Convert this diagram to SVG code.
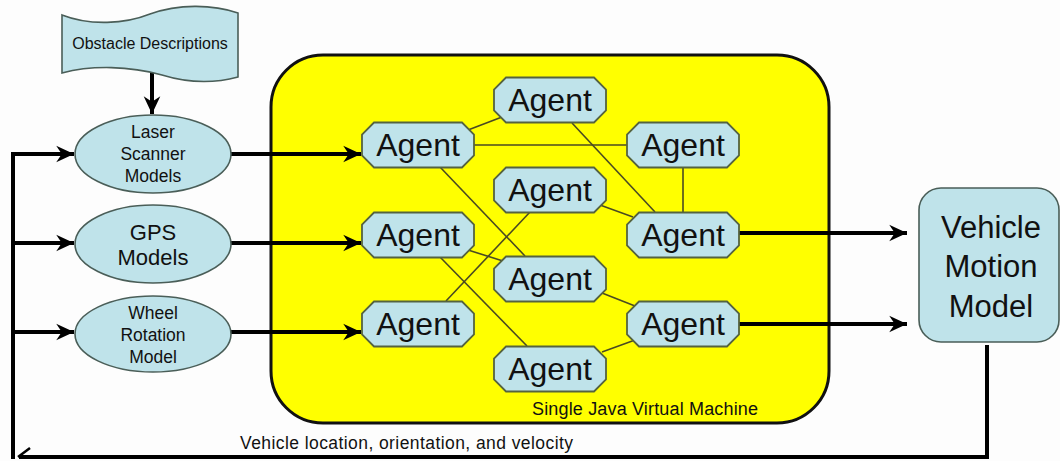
<svg xmlns="http://www.w3.org/2000/svg" xmlns:xlink="http://www.w3.org/1999/xlink" width="1060" height="461" viewBox="0 0 1060 461">
<style>
  .node { fill: #bfe3ea; stroke: #4a5e58; stroke-width: 1.6; }
  .agent { fill: #bfe3ea; stroke: #55633f; stroke-width: 1.8; }
  .t { font-family: "Liberation Sans", Arial, sans-serif; fill: #111; text-anchor: middle; }
  .link { stroke: #4a4a22; stroke-width: 1.6; fill: none; }
  .thick { stroke: #000; stroke-width: 4; fill: none; }
</style>
<defs>
  <marker id="ah" markerUnits="userSpaceOnUse" markerWidth="20" markerHeight="20" viewBox="-16 -8 18 16" refX="0" refY="0" orient="auto">
    <path d="M0,0 L-16,-7.5 L-11,0 L-16,7.5 Z" fill="#000"/>
  </marker>
  <polygon id="oct" points="-44,-22.5 44,-22.5 56,-10.5 56,10.5 44,22.5 -44,22.5 -56,10.5 -56,-10.5"/>
</defs>
<rect width="1060" height="461" fill="#fdfdfd"/>

<g id="jvm">
  <rect x="271" y="55" width="558" height="368" rx="52" ry="52" fill="#ffff00" stroke="#111" stroke-width="3"/>
  <text class="t" x="532" y="415" font-size="18" style="text-anchor:start" textLength="226" fill="#222">Single Java Virtual Machine</text>
</g>

<g id="connectors">
  <line class="link" x1="468" y1="130" x2="502" y2="117"/>
  <line class="link" x1="474" y1="145" x2="627" y2="145"/>
  <line class="link" x1="572" y1="123" x2="655" y2="212"/>
  <line class="link" x1="683" y1="167" x2="683" y2="212"/>
  <line class="link" x1="600" y1="205" x2="633" y2="217"/>
  <line class="link" x1="440" y1="167" x2="525" y2="256"/>
  <line class="link" x1="530" y1="212" x2="446" y2="301"/>
  <line class="link" x1="468" y1="250" x2="503" y2="261"/>
  <line class="link" x1="440" y1="257" x2="527" y2="346"/>
  <line class="link" x1="602" y1="293" x2="635" y2="306"/>
  <line class="link" x1="602" y1="352" x2="635" y2="340"/>
  <line class="thick" x1="152" y1="73" x2="152" y2="114" marker-end="url(#ah)"/>
  <line class="thick" x1="231" y1="154" x2="361" y2="154" marker-end="url(#ah)"/>
  <line class="thick" x1="231" y1="243" x2="361" y2="243" marker-end="url(#ah)"/>
  <line class="thick" x1="231" y1="332" x2="361" y2="332" marker-end="url(#ah)"/>
  <line class="thick" x1="738" y1="233" x2="907" y2="233" marker-end="url(#ah)"/>
  <line class="thick" x1="738" y1="324" x2="907" y2="324" marker-end="url(#ah)"/>
  <polyline class="thick" points="987,345 987,457 19,457"/>
  <polyline points="30,448 18,457" stroke="#000" stroke-width="2.5" fill="none"/>
  <polyline class="thick" points="13,459 13,154 60,154"/>
  <line class="thick" x1="13" y1="243" x2="74" y2="243" marker-end="url(#ah)"/>
  <line class="thick" x1="13" y1="332" x2="74" y2="332" marker-end="url(#ah)"/>
  <line class="thick" x1="58" y1="154" x2="74" y2="154" marker-end="url(#ah)"/>
  <text class="t" x="240" y="449" font-size="17.5" style="text-anchor:start" textLength="333" fill="#3a3a5a">Vehicle location, orientation, and velocity</text>
</g>

<g id="obstacle">
  <path class="node" d="M62,15 C90,26 125,24 150,14 C178,4 212,4 238,13 L238,77 C212,84 188,83 162,75 C130,66 92,65 62,73 Z"/>
  <text class="t" x="150" y="49" font-size="16">Obstacle Descriptions</text>
</g>

<g id="laser">
  <ellipse class="node" cx="153" cy="154" rx="78" ry="39"/>
  <text class="t" x="153" y="138" font-size="17.5">Laser</text>
  <text class="t" x="153" y="160" font-size="17.5">Scanner</text>
  <text class="t" x="153" y="182" font-size="17.5">Models</text>
</g>
<g id="gps">
  <ellipse class="node" cx="153" cy="244" rx="78" ry="39"/>
  <text class="t" x="153" y="240" font-size="22">GPS</text>
  <text class="t" x="153" y="265" font-size="22">Models</text>
</g>
<g id="wheel">
  <ellipse class="node" cx="153" cy="334" rx="78" ry="38"/>
  <text class="t" x="153" y="319" font-size="17.5">Wheel</text>
  <text class="t" x="153" y="341" font-size="17.5">Rotation</text>
  <text class="t" x="153" y="363" font-size="17.5">Model</text>
</g>

<g id="agent-c1"><use href="#oct" x="550" y="100" class="agent"/><text class="t" x="550" y="111" font-size="32">Agent</text></g>
<g id="agent-l1"><use href="#oct" x="418" y="145" class="agent"/><text class="t" x="418" y="156" font-size="32">Agent</text></g>
<g id="agent-r1"><use href="#oct" x="683" y="145" class="agent"/><text class="t" x="683" y="156" font-size="32">Agent</text></g>
<g id="agent-c2"><use href="#oct" x="550" y="190" class="agent"/><text class="t" x="550" y="201" font-size="32">Agent</text></g>
<g id="agent-l2"><use href="#oct" x="418" y="235" class="agent"/><text class="t" x="418" y="246" font-size="32">Agent</text></g>
<g id="agent-r2"><use href="#oct" x="683" y="235" class="agent"/><text class="t" x="683" y="246" font-size="32">Agent</text></g>
<g id="agent-c3"><use href="#oct" x="550" y="279" class="agent"/><text class="t" x="550" y="290" font-size="32">Agent</text></g>
<g id="agent-l3"><use href="#oct" x="418" y="324" class="agent"/><text class="t" x="418" y="335" font-size="32">Agent</text></g>
<g id="agent-r3"><use href="#oct" x="683" y="324" class="agent"/><text class="t" x="683" y="335" font-size="32">Agent</text></g>
<g id="agent-c4"><use href="#oct" x="550" y="369" class="agent"/><text class="t" x="550" y="380" font-size="32">Agent</text></g>

<g id="vmm">
  <rect class="node" x="919" y="188" width="140" height="154" rx="22" ry="22"/>
  <text class="t" x="991" y="238" font-size="31">Vehicle</text>
  <text class="t" x="991" y="277" font-size="31">Motion</text>
  <text class="t" x="991" y="317" font-size="31">Model</text>
</g>
</svg>
